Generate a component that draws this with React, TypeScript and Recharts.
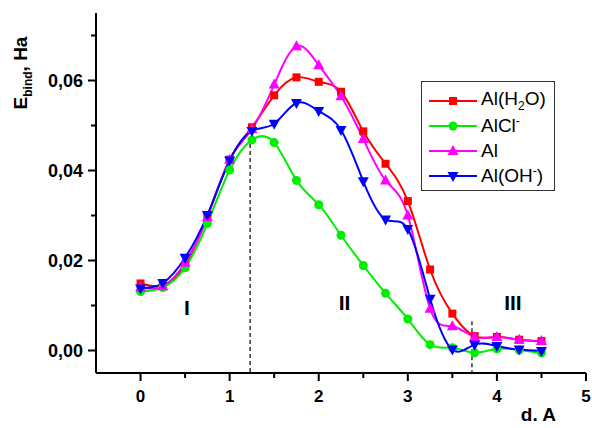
import React from 'react';
import { LineChart, Line, XAxis, YAxis, ReferenceLine, ReferenceDot, Legend } from 'recharts';

// interatomic distance, A
const distances = [0, 0.25, 0.5, 0.75, 1, 1.25, 1.5, 1.75, 2, 2.25, 2.5, 2.75, 3, 3.25, 3.5, 3.75, 4, 4.25, 4.5];

// binding energy, Ha
const alH2O = [0.0149, 0.0145, 0.019, 0.0298, 0.0424, 0.0496, 0.0567, 0.0607, 0.0597, 0.0575, 0.0487, 0.0415, 0.0332, 0.018, 0.0082, 0.0032, 0.003, 0.0024, 0.0021];
const alCl = [0.0131, 0.014, 0.0184, 0.0282, 0.0401, 0.0468, 0.0462, 0.0378, 0.0324, 0.0256, 0.0189, 0.0127, 0.007, 0.0013, 0.0006, -0.0005, 0.0004, 0.0001, -0.0005];
const al = [0.014, 0.0143, 0.0195, 0.0296, 0.0424, 0.0492, 0.0591, 0.0676, 0.0634, 0.0565, 0.047, 0.0378, 0.03, 0.0093, 0.0054, 0.003, 0.003, 0.0024, 0.0021];
const alOH = [0.0138, 0.015, 0.0206, 0.0301, 0.0422, 0.0488, 0.0504, 0.055, 0.0532, 0.049, 0.0376, 0.0291, 0.027, 0.0115, 0.0002, 0.0013, 0.001, 0.0002, -0.0001];

const xTicks = [0, 0.5, 1, 1.5, 2, 2.5, 3, 3.5, 4, 4.5, 5];
const yTicks = [0, 0.01, 0.02, 0.03, 0.04, 0.05, 0.06, 0.07];

// region borders and labels
const borders = [
  { x: 1.23, top: 0.049 },
  { x: 3.72, top: 0.0065 },
];
const regions = [
  { label: 'I', x: 0.52, y: 0.0096 },
  { label: 'II', x: 2.29, y: 0.0107 },
  { label: 'III', x: 4.18, y: 0.0107 },
];

const FONT = '"Liberation Sans", Arial, sans-serif';

type Shape = 'square' | 'circle' | 'up' | 'down';

const series: { key: string; name: string; color: string; shape: Shape; label: React.ReactNode }[] = [
  { key: 'h2o', name: 'Al(H2O)', color: '#ff0000', shape: 'square', label: <>Al(H<sub style={{ fontSize: 12 }}>2</sub>O)</> },
  { key: 'cl', name: 'AlCl-', color: '#00ee00', shape: 'circle', label: <>AlCl<sup style={{ fontSize: 12 }}>-</sup></> },
  { key: 'al', name: 'Al', color: '#ff00ff', shape: 'up', label: <>Al</> },
  { key: 'oh', name: 'Al(OH-)', color: '#0000ff', shape: 'down', label: <>Al(OH<sup style={{ fontSize: 12 }}>-</sup>)</> },
];

const data = distances.map((d, i) => ({
  d,
  h2o: alH2O[i],
  cl: alCl[i],
  al: al[i],
  oh: alOH[i],
}));

function marker(shape: Shape, cx: number, cy: number, color: string, key?: string | number) {
  if (shape === 'square') return <rect key={key} x={cx - 4} y={cy - 4} width={8} height={8} fill={color} />;
  if (shape === 'circle') return <circle key={key} cx={cx} cy={cy} r={4.5} fill={color} />;
  if (shape === 'up')
    return <polygon key={key} points={`${cx},${cy - 6} ${cx - 5.5},${cy + 4} ${cx + 5.5},${cy + 4}`} fill={color} />;
  return <polygon key={key} points={`${cx},${cy + 6} ${cx - 5.5},${cy - 4} ${cx + 5.5},${cy - 4}`} fill={color} />;
}

const XTick = (props: any) => {
  const { x, y, payload } = props;
  const major = Number.isInteger(payload.value);
  return (
    <g>
      <line x1={x} x2={x} y1={y} y2={y + (major ? 8 : 5)} stroke="#000" strokeWidth={2} />
      {major && (
        <text x={x} y={y + 29} textAnchor="middle" fontFamily={FONT} fontWeight="bold" fontSize={17} fill="#000">
          {payload.value}
        </text>
      )}
    </g>
  );
};

const YTick = (props: any) => {
  const { x, y, payload } = props;
  const major = Math.round(payload.value * 100) % 2 === 0;
  return (
    <g>
      <line x1={x} x2={x - (major ? 8 : 5)} y1={y} y2={y} stroke="#000" strokeWidth={2} />
      {major && (
        <text x={x - 13} y={y + 6} textAnchor="end" fontFamily={FONT} fontWeight="bold" fontSize={18} fill="#000">
          {payload.value.toFixed(2).replace('.', ',')}
        </text>
      )}
    </g>
  );
};

const renderLegend = () => (
  <div
    style={{
      border: '1.5px solid #333',
      background: '#fff',
      width: 134,
      height: 110,
      boxSizing: 'border-box',
      padding: '6px 0 0 7px',
      fontFamily: FONT,
      fontSize: 19,
      color: '#000',
      lineHeight: 1,
    }}
  >
    {series.map((s) => (
      <div key={s.key} style={{ display: 'flex', alignItems: 'center', height: 25 }}>
        <svg width={48} height={14}>
          <line x1={0} x2={48} y1={7} y2={7} stroke={s.color} strokeWidth={2} />
          {marker(s.shape, 24, 7, s.color)}
        </svg>
        <span style={{ marginLeft: 4, whiteSpace: 'nowrap' }}>{s.label}</span>
      </div>
    ))}
  </div>
);

export default function App() {
  return (
    <div style={{ position: 'absolute', left: 0, top: 0, background: '#fff' }}>
      <LineChart width={592} height={428} data={data} margin={{ top: 13, right: 6, bottom: 15, left: 0 }}>
        <XAxis
          dataKey="d"
          type="number"
          domain={[-0.5, 5]}
          ticks={xTicks}
          allowDataOverflow
          height={40}
          tickSize={0}
          tickMargin={0}
          tickLine={false}
          tick={<XTick />}
          axisLine={{ stroke: '#000', strokeWidth: 2 }}
          label={{
            content: () => (
              <text x={556} y={421} textAnchor="end" fontFamily={FONT} fontWeight="bold" fontSize={19} fill="#000">
                d. A
              </text>
            ),
          }}
        />
        <YAxis
          type="number"
          domain={[-0.005, 0.075]}
          ticks={yTicks}
          allowDataOverflow
          width={96}
          tickSize={0}
          tickMargin={0}
          tickLine={false}
          tick={<YTick />}
          axisLine={{ stroke: '#000', strokeWidth: 2 }}
          label={{
            content: () => (
              <text
                x={27}
                y={73}
                transform="rotate(-90 27 73)"
                textAnchor="middle"
                fontFamily={FONT}
                fontWeight="bold"
                fontSize={19}
                fill="#000"
              >
                E<tspan fontSize={12} dy={5}>bind</tspan>
                <tspan dy={-5}>, Ha</tspan>
              </text>
            ),
          }}
        />
        {borders.map((b) => (
          <ReferenceLine
            key={b.x}
            segment={[
              { x: b.x, y: b.top },
              { x: b.x, y: -0.005 },
            ]}
            stroke="#000"
            strokeWidth={1.2}
            strokeDasharray="4 3"
          />
        ))}
        {regions.map((r) => (
          <ReferenceDot
            key={r.label}
            x={r.x}
            y={r.y}
            r={0}
            shape={(p: any) => (
              <text x={p.cx} y={p.cy + 8} textAnchor="middle" fontFamily={FONT} fontWeight="bold" fontSize={21} fill="#000">
                {r.label}
              </text>
            )}
          />
        ))}
        {series.map((s) => (
          <Line
            key={s.key}
            dataKey={s.key}
            name={s.name}
            type="natural"
            stroke={s.color}
            strokeWidth={2}
            connectNulls
            isAnimationActive={false}
            dot={(p: any) =>
              p.cx == null || p.cy == null || p.value == null ? (
                <g key={p.index} />
              ) : (
                marker(s.shape, p.cx, p.cy, s.color, p.index)
              )
            }
            activeDot={false}
          />
        ))}
        <Legend
          layout="vertical"
          align="center"
          verticalAlign="middle"
          content={renderLegend}
          wrapperStyle={{ left: 421, top: 81, width: 134, height: 110 }}
        />
      </LineChart>
    </div>
  );
}
